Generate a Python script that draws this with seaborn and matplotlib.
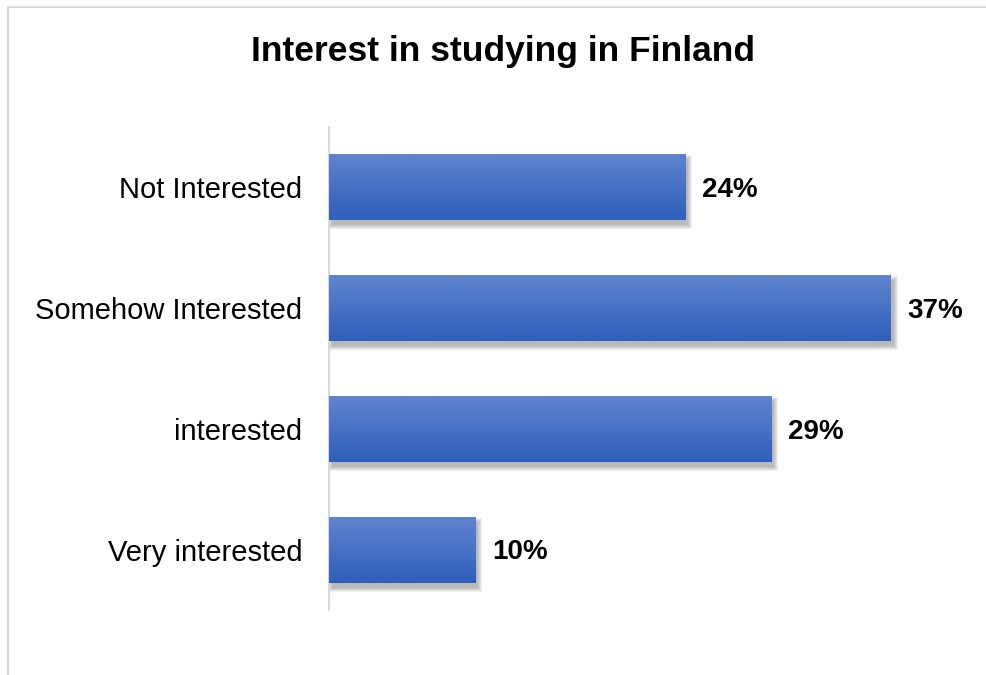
import numpy as np
import pandas as pd
import seaborn as sns
import matplotlib.pyplot as plt
from matplotlib.patches import Rectangle
from matplotlib import transforms

# values (labels show the rounded percent)
categories = ['Not Interested', 'Somehow Interested', 'interested', 'Very interested']
values = [23.6, 37.2, 29.3, 9.7]
labels = ['24%', '37%', '29%', '10%']

title = 'Interest in studying in Finland'

sns.set_style('white')
plt.rcParams['font.family'] = ['Liberation Sans', 'DejaVu Sans']

df = pd.DataFrame({'category': categories, 'value': values})

fig = plt.figure(figsize=(9.87, 6.75), dpi=100)
W, H = 987, 675
ax = fig.add_axes([329 / W, 1 - 610 / H, 604 / W, 483 / H])

sns.barplot(data=df, x='value', y='category', orient='h', color='#4472C4',
            width=0.545, ax=ax, zorder=3)

top = np.array([96, 131, 207]) / 255
bot = np.array([46, 95, 187]) / 255
ramp = np.linspace(0, 1, 64).reshape(-1, 1, 1)
grad = top * (1 - ramp) + bot * ramp

ppx = 604 / 40.0   # pixels per unit on x
ppy = 483 / 4.0    # pixels per category on y

for p in ax.patches:
    x0, y0, w, h = p.get_x(), p.get_y(), p.get_width(), p.get_height()
    p.set_edgecolor('none')
    p.set_facecolor((46 / 255, 95 / 255, 187 / 255))
    # soft drop shadow, mostly below and to the right
    off = transforms.offset_copy(ax.transData, fig=fig, x=3, y=-5, units='dots')
    for k in range(4, -1, -1):
        ex, ey = k / ppx, k / ppy
        ax.add_patch(Rectangle((x0 - ex, y0 - ey), w + 2 * ex, h + 2 * ey,
                               transform=off, facecolor='black', alpha=0.06,
                               edgecolor='none', zorder=2))
    im = ax.imshow(grad, extent=(x0, x0 + w, y0 + h, y0), origin='upper',
                   aspect='auto', zorder=4, interpolation='bilinear')
    im.set_clip_path(p)

ax.set_xlim(0, 40)
ax.set_ylim(3.5, -0.5)

texts = ax.bar_label(ax.containers[0], labels=labels, padding=12, fontsize=20,
                     fontweight='bold', color='black', zorder=5)
for t in texts:
    t.xyann = (12, -2)

ax.set_xlabel('')
ax.set_ylabel('')
ax.set_xticks([])
ax.tick_params(axis='y', length=0, pad=19, labelsize=21, labelcolor='black')
for s in ['top', 'right', 'bottom']:
    ax.spines[s].set_visible(False)
ax.spines['left'].set_color('#D9D9D9')
ax.spines['left'].set_linewidth(1.5)

# chart frame (cut off at right and bottom)
fig.patches.append(Rectangle((8.5 / W, -0.1), 1.2, 1 - 7.5 / H + 0.1,
                             transform=fig.transFigure, fill=False,
                             edgecolor='#D9D9D9', linewidth=1.5))

fig.text(503 / W, 1 - 52 / H, title, ha='center', va='center',
         fontsize=25.5, fontweight='bold', color='black')

fig.savefig('out.png', dpi=100)
